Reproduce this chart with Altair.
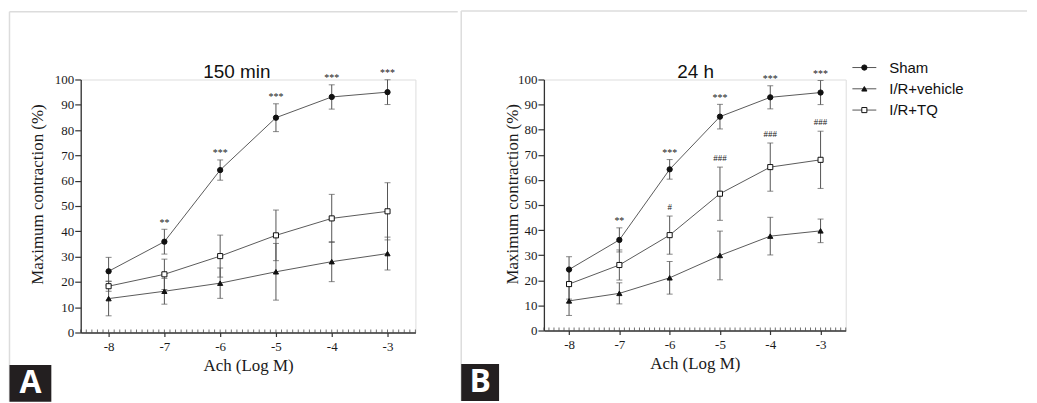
import altair as alt
import pandas as pd
import numpy as np

# ---------------- data ----------------
conc = [-8, -7, -6, -5, -4, -3]
series = ["Sham", "I/R+vehicle", "I/R+TQ"]

# 150 min
sham_150 = [24.2, 35.9, 64.2, 84.9, 93.1, 95.0]
sham_150_err = [5.5, 4.9, 4.0, 5.5, 4.8, 4.9]
veh_150 = [13.4, 16.3, 19.5, 24.0, 28.0, 31.2]
veh_150_err = [6.8, 5.1, 6.0, 11.2, 7.9, 6.5]
tq_150 = [18.3, 23.0, 30.2, 38.4, 45.1, 47.9]
tq_150_err = [2.0, 6.0, 8.3, 10.0, 9.5, 11.3]

# 24 h
sham_24 = [24.3, 36.1, 64.2, 85.2, 92.9, 94.8]
sham_24_err = [5.1, 4.8, 3.9, 4.9, 4.6, 4.8]
veh_24 = [11.8, 14.8, 21.0, 29.9, 37.6, 39.7]
veh_24_err = [5.8, 4.2, 6.5, 9.7, 7.5, 4.7]
tq_24 = [18.5, 26.1, 38.0, 54.5, 65.1, 68.0]
tq_24_err = [6.0, 6.0, 7.6, 10.6, 9.6, 11.4]

stars_150 = ["", "**", "***", "***", "***", "***"]
stars_24 = ["", "**", "***", "***", "***", "***"]
hashes_24 = ["", "", "#", "###", "###", "###"]

x_ticks = [-8, -7, -6, -5, -4, -3]
y_ticks = [0, 10, 20, 30, 40, 50, 60, 70, 80, 90, 100]
minor_ticks = [round(v, 1) for v in np.arange(-8.5, -2.45, 0.1)]

SERIF = "Liberation Serif"
SANS = "Liberation Sans"
INK = "#1a1a1a"


def make_df(means, errs):
    rows = []
    for s, m, e in zip(series, means, errs):
        for c, mv, ev in zip(conc, m, e):
            rows.append(dict(conc=c, series=s, mean=mv, lo=mv - ev, hi=mv + ev))
    return pd.DataFrame(rows)


def one():
    return pd.DataFrame({"k": [0]})


shape_scale = alt.Scale(domain=series, range=["circle", "triangle-up", "square"])
fill_scale = alt.Scale(domain=series, range=["#111111", "#111111", "#ffffff"])
size_scale = alt.Scale(domain=series, range=[28, 26, 32])


def panel(df, title, W, H, ytx, yty, tx, ty, fx1, fx2, ftop, fbot, letter,
          stars, hashes=None, legend=False):
    xscale = alt.Scale(domain=[-8.5, -2.5], nice=False, zero=False)
    yscale = alt.Scale(domain=[0, 100], nice=False, zero=False)
    xaxis = alt.Axis(values=x_ticks, labelExpr="datum.value + ''", title="Ach (Log M)",
                     tickSize=4, tickWidth=1.2, tickColor="#333", domainColor="#333",
                     domainWidth=1.3, labelFont=SERIF, labelFontSize=13, labelColor=INK,
                     labelPadding=4, titleFont=SERIF, titleFontSize=17,
                     titleFontWeight="normal", titleColor=INK, titleX=W / 2, titleY=38.5,
                     titleBaseline="alphabetic", grid=False)
    yaxis = alt.Axis(values=y_ticks, format="d", title="Maximum contraction (%)",
                     tickSize=6, tickWidth=1.2, tickColor="#333", domainColor="#333",
                     domainWidth=1.3, labelFont=SERIF, labelFontSize=13, labelColor=INK,
                     labelPadding=1, titleFont=SERIF, titleFontSize=17,
                     titleFontWeight="normal", titleColor=INK, titleX=ytx, titleY=yty,
                     titleAngle=270, titleBaseline="middle", titleAlign="center", grid=False)

    def X(field="conc"):
        return alt.X(f"{field}:Q", scale=xscale, axis=xaxis)

    def Y(field, axis=False):
        return alt.Y(f"{field}:Q", scale=yscale, axis=yaxis if axis else None)

    base = alt.Chart(df)
    err = base.mark_rule(color="#555555", strokeWidth=1).encode(
        x=X(), y=Y("lo"), y2="hi:Q")
    cap_lo = base.mark_tick(orient="horizontal", size=6, thickness=1, color="#555555").encode(
        x=X(), y=Y("lo"))
    cap_hi = base.mark_tick(orient="horizontal", size=6, thickness=1, color="#555555").encode(
        x=X(), y=Y("hi"))
    line = base.mark_line(color="#5a5a5a", strokeWidth=1).encode(
        x=X(), y=Y("mean", axis=True), detail="series:N")
    pts = base.mark_point(filled=True, stroke="#111111", strokeWidth=1, opacity=1).encode(
        x=X(), y=Y("mean"),
        shape=alt.Shape("series:N", scale=shape_scale, legend=None),
        fill=alt.Fill("series:N", scale=fill_scale, legend=None),
        size=alt.Size("series:N", scale=size_scale, legend=None))

    minor = alt.Chart(pd.DataFrame({"m": minor_ticks})).mark_tick(
        orient="vertical", size=3, thickness=1, color="#333333").encode(
        x=X("m"), y=alt.value(H - 1.5))

    sham = df[df.series == "Sham"].reset_index(drop=True)
    sdf = pd.DataFrame({"conc": conc, "hi": sham["hi"], "lab": stars})
    star_txt = alt.Chart(sdf).mark_text(font=SERIF, fontSize=10, color=INK, dy=-3.5,
                                        baseline="alphabetic").encode(
        x=X(), y=Y("hi"), text="lab:N")
    layers = [err, cap_lo, cap_hi, line, pts, minor, star_txt]
    if hashes is not None:
        tq = df[df.series == "I/R+TQ"].reset_index(drop=True)
        hdf = pd.DataFrame({"conc": conc, "hi": tq["hi"], "lab": hashes})
        hash_txt = alt.Chart(hdf).mark_text(font=SERIF, fontSize=9, color=INK, dy=-6,
                                            baseline="alphabetic").encode(
            x=X(), y=Y("hi"), text="lab:N")
        layers.append(hash_txt)

    ttl = alt.Chart(one()).mark_text(text=title, font=SANS, fontSize=19, color="#111111",
                                     align="center", baseline="alphabetic").encode(
        x=alt.value(tx), y=alt.value(ty))
    frame_top = alt.Chart(one()).mark_rule(color="#dcdcdc", strokeWidth=1.5).encode(
        x=alt.value(fx1), x2=alt.value(fx2), y=alt.value(ftop))
    frame_left = alt.Chart(one()).mark_rule(color="#dcdcdc", strokeWidth=1.5).encode(
        x=alt.value(fx1), y=alt.value(ftop), y2=alt.value(fbot))
    bw = 42 if letter == "A" else 38
    box = alt.Chart(one()).mark_rect(color="#231f20").encode(
        x=alt.value(fx1), x2=alt.value(fx1 + bw),
        y=alt.value(fbot - 37), y2=alt.value(fbot))
    box_txt = alt.Chart(one()).mark_text(text=letter, font="Open Sans", fontWeight="bold",
                                         fontSize=32, color="#ffffff", align="center",
                                         baseline="alphabetic").encode(
        x=alt.value(fx1 + bw / 2), y=alt.value(fbot - 9))
    layers += [ttl, frame_top, frame_left, box, box_txt]

    if legend:
        ldf = pd.DataFrame({"series": series})
        ly = alt.Y("series:N", scale=alt.Scale(type="point", domain=series,
                                               range=[-12, 30.7], padding=0), axis=None)
        lrule = alt.Chart(ldf).mark_rule(color="#555555", strokeWidth=1).encode(
            x=alt.value(309.7), x2=alt.value(333.7), y=ly)
        lpts = alt.Chart(ldf).mark_point(filled=True, stroke="#111111", strokeWidth=1,
                                         opacity=1).encode(
            x=alt.value(321.7), y=ly,
            shape=alt.Shape("series:N", scale=shape_scale, legend=None),
            fill=alt.Fill("series:N", scale=fill_scale, legend=None),
            size=alt.Size("series:N", scale=size_scale, legend=None))
        ltxt = alt.Chart(ldf).mark_text(font=SANS, fontSize=15, color="#111111",
                                        align="left", baseline="middle").encode(
            x=alt.value(346.7), y=ly, text="series:N")
        layers += [lrule, lpts, ltxt]

    return alt.layer(*layers).resolve_scale(y="independent").properties(width=W, height=H)


left = panel(make_df([sham_150, veh_150, tq_150], [sham_150_err, veh_150_err, tq_150_err]),
             "150 min", W=336, H=254, ytx=-43.3, yty=115, tx=156.7, ty=-1.2,
             fx1=-71.5, fx2=378.5, ftop=-68.0, fbot=323.5, letter="A", stars=stars_150)
right = panel(make_df([sham_24, veh_24, tq_24], [sham_24_err, veh_24_err, tq_24_err]),
              "24 h", W=303, H=252, ytx=-31.7, yty=114.7, tx=152.4, ty=-2,
              fx1=-83.0, fx2=485.0, ftop=-68.8, fbot=322.7, letter="B", stars=stars_24,
              hashes=hashes_24, legend=True)

chart = alt.hconcat(left, right, spacing=0).properties(
    padding={"left": 0, "top": 0, "right": 0, "bottom": 0}
).configure_view(stroke=None).configure(background="#ffffff")

chart.save("out.html", embed_options={"renderer": "svg", "actions": False})
